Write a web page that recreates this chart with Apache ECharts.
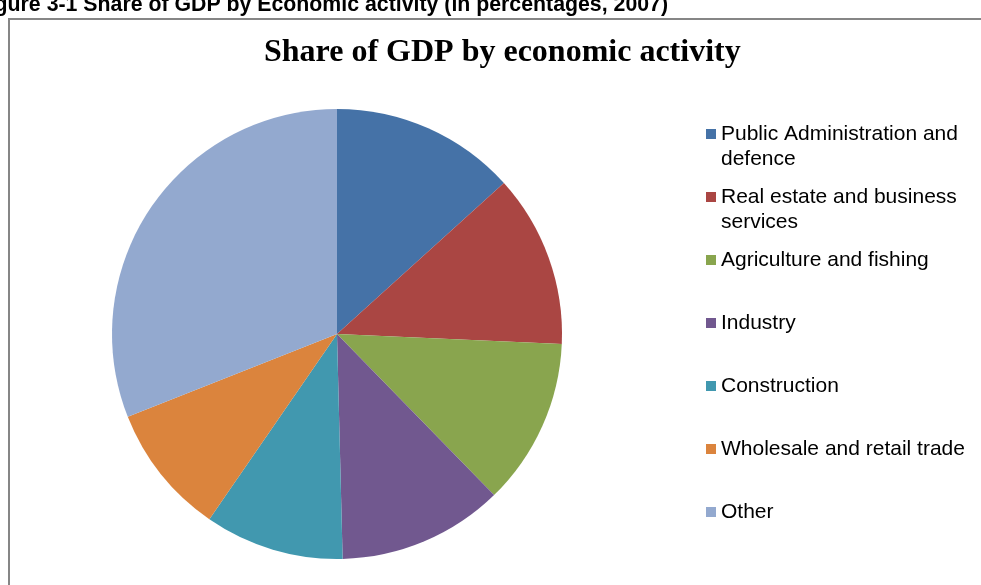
<!DOCTYPE html>
<html>
<head>
<meta charset="utf-8">
<script src="https://cdn.jsdelivr.net/npm/echarts@6/dist/echarts.min.js"></script>
<style>
  html, body { margin: 0; padding: 0; background: #fff; }
  #chart { width: 981px; height: 585px; }
</style>
</head>
<body>
<div id="chart"></div>
<script>
const categories = [
  'Public Administration and defence',
  'Real estate and business services',
  'Agriculture and fishing',
  'Industry',
  'Construction',
  'Wholesale and retail trade',
  'Other'
];
const legendLabels = [
  'Public Administration and\ndefence',
  'Real estate and business\nservices',
  'Agriculture and fishing',
  'Industry',
  'Construction',
  'Wholesale and retail trade',
  'Other'
];
const shares = [13.3, 12.4, 12.0, 11.9, 10.0, 9.4, 31.0];
const colors = ['#4572A7', '#AA4643', '#89A54E', '#71588F', '#4198AF', '#DB843D', '#93A9CF'];
const chartTitle = 'Share of GDP by economic activity';
const caption = 'Figure 3-1 Share of GDP by Economic activity (in percentages, 2007)';

const chart = echarts.init(document.getElementById('chart'), null, { renderer: 'canvas' });

const labelFor = {};
categories.forEach((c, i) => {
  const lbl = legendLabels[i];
  // pad to three lines so the first text line aligns with the legend square
  labelFor[c] = lbl.indexOf('\n') >= 0 ? '\n' + lbl : '\n' + lbl + '\n';
});

chart.setOption({
  animation: false,
  backgroundColor: '#ffffff',
  color: colors,
  title: [
    {
      text: chartTitle,
      left: 264,
      top: 37,
      padding: 0,
      textStyle: { fontFamily: 'Liberation Serif', fontWeight: 'bold', fontSize: 32, color: '#000' }
    },
    {
      text: caption,
      right: 313,
      top: -5,
      padding: 0,
      textStyle: { fontFamily: 'Liberation Sans', fontWeight: 'bold', fontSize: 21.3, color: '#000' }
    }
  ],
  graphic: [
    {
      type: 'rect',
      shape: { x: 9, y: 19, width: 1000, height: 600 },
      style: { fill: 'none', stroke: '#868686', lineWidth: 2 },
      silent: true,
      z: -1
    }
  ],
  legend: {
    orient: 'vertical',
    left: 706,
    top: 96.5,
    padding: 0,
    itemWidth: 10,
    itemHeight: 10,
    itemGap: -12,
    icon: 'rect',
    data: categories,
    formatter: name => labelFor[name],
    textStyle: { fontFamily: 'Liberation Sans', fontSize: 21, lineHeight: 25, color: '#000' }
  },
  series: [
    {
      type: 'pie',
      center: [337, 334],
      radius: 225,
      startAngle: 90,
      clockwise: true,
      label: { show: false },
      labelLine: { show: false },
      emphasis: { disabled: true },
      itemStyle: { borderWidth: 0 },
      data: categories.map((c, i) => ({ name: c, value: shares[i] }))
    }
  ]
});
</script>
</body>
</html>
